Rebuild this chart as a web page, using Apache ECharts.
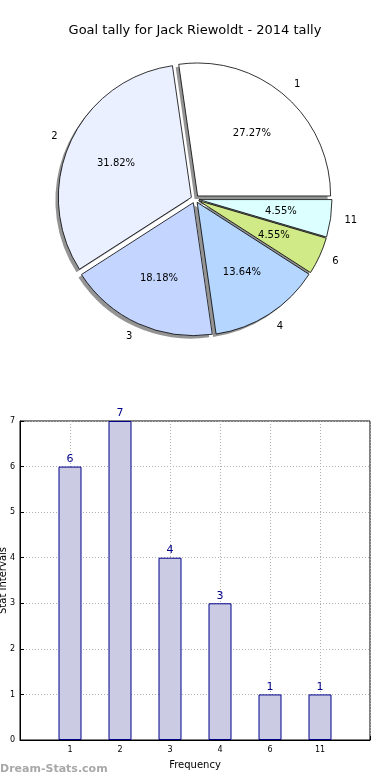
<!DOCTYPE html>
<html>
<head>
<meta charset="utf-8">
<script src="https://cdn.jsdelivr.net/npm/echarts@6/dist/echarts.min.js"></script>
<style>html,body{margin:0;padding:0;background:#fff}#c{width:390px;height:780px}</style>
</head>
<body>
<div id="c"></div>
<script>
const titleText = 'Goal tally for Jack Riewoldt - 2014 tally';
const categories = ['1', '2', '3', '4', '6', '11'];
const counts = [6, 7, 4, 3, 1, 1];
const sliceColors = ['#ffffff', '#eaf0ff', '#c4d6ff', '#b4d6ff', '#d0ea88', '#dcffff'];
const yTicks = [0, 1, 2, 3, 4, 5, 6, 7];

const FONT = 'DejaVu Sans';
const R = 133;
const CX = 195, CY = 199;
const OFF = 4;

const total = counts.reduce((a, b) => a + b, 0);
const chart = echarts.init(document.getElementById('c'), null, {renderer: 'canvas'});

const pieData = categories.map((c, i) => ({
  name: c, value: counts[i], selected: true,
  itemStyle: {color: sliceColors[i]}
}));
const shadowData = categories.map((c, i) => ({name: c, value: counts[i], selected: true}));
const pctData = categories.map((c, i) => ({name: c, value: counts[i], selected: true}));
const barData = counts.map((v, i) => [i, v]);

const pieCommon = {
  type: 'pie', startAngle: 0, clockwise: false,
  selectedMode: 'multiple', selectedOffset: OFF,
  avoidLabelOverlap: false, minAngle: 0,
  emphasis: {disabled: true}, silent: true
};

chart.setOption({
  animation: false,
  title: {
    text: titleText, left: 'center', top: 19,
    textStyle: {fontFamily: FONT, fontSize: 13, fontWeight: 'normal', color: '#000'}
  },
  grid: [{
    left: 20, right: 20, top: 421, bottom: 40,
    outerBoundsMode: 'none', containLabel: false,
    show: true, borderColor: '#000', borderWidth: 1, backgroundColor: 'transparent'
  }],
  xAxis: [{
    type: 'value', gridIndex: 0, min: -1, max: 6, interval: 1,
    axisLine: {show: true, onZero: false, lineStyle: {color: '#000'}},
    axisTick: {show: true, inside: true, length: 4, lineStyle: {color: '#000'}},
    splitLine: {show: true, lineStyle: {color: '#b0b0b0', type: [1, 2], width: 1}},
    axisLabel: {
      fontFamily: FONT, fontSize: 8, color: '#000', margin: 6,
      formatter: v => (v >= 0 && v < categories.length) ? categories[v] : ''
    },
    name: 'Frequency', nameLocation: 'middle', nameGap: 20, nameMoveOverlap: false,
    nameTextStyle: {fontFamily: FONT, fontSize: 10, color: '#000'}
  }],
  yAxis: [{
    type: 'value', gridIndex: 0, min: yTicks[0], max: yTicks[yTicks.length - 1], interval: 1,
    axisLine: {show: true, onZero: false, lineStyle: {color: '#000'}},
    axisTick: {show: true, inside: true, length: 4, lineStyle: {color: '#000'}},
    splitLine: {show: true, lineStyle: {color: '#b0b0b0', type: [1, 2], width: 1}},
    axisLabel: {fontFamily: FONT, fontSize: 8, color: '#000', margin: 5},
    name: 'Stat Intervals', nameLocation: 'middle', nameGap: 12, nameRotate: 90, nameMoveOverlap: false,
    nameTextStyle: {fontFamily: FONT, fontSize: 10, color: '#000'}
  }],
  graphic: [{
    type: 'text', left: 0, top: 764,
    style: {text: 'Dream-Stats.com', fontFamily: FONT, fontSize: 11, fontWeight: 'bold', fill: '#a8a8a8'}
  }],
  series: [
    Object.assign({}, pieCommon, {
      center: [CX - 3, CY + 3], radius: [0, R],
      data: shadowData,
      itemStyle: {color: 'rgba(0,0,0,0.42)', borderWidth: 0},
      label: {show: false}, labelLine: {show: false},
      z: 1
    }),
    Object.assign({}, pieCommon, {
      center: [CX, CY], radius: [0, R],
      data: pieData,
      itemStyle: {borderColor: '#000', borderWidth: 0.8},
      label: {
        show: true, position: 'outside', formatter: '{b}',
        fontFamily: FONT, fontSize: 10, color: '#000', distanceToLabelLine: 0
      },
      labelLine: {show: false, length: 14, length2: 0},
      select: {itemStyle: {borderColor: '#000', borderWidth: 0.8}},
      z: 2
    }),
    Object.assign({}, pieCommon, {
      center: [CX, CY], radius: [0, R * 1.2],
      data: pctData,
      itemStyle: {color: 'rgba(0,0,0,0)', borderWidth: 0},
      label: {
        show: true, position: 'inside',
        formatter: p => (p.value / total * 100).toFixed(2) + '%',
        fontFamily: FONT, fontSize: 10, color: '#000'
      },
      labelLine: {show: false},
      select: {itemStyle: {color: 'rgba(0,0,0,0)', borderWidth: 0}},
      z: 3
    }),
    {
      type: 'bar', xAxisIndex: 0, yAxisIndex: 0,
      data: barData, barWidth: 23,
      itemStyle: {color: '#cbcbe3', borderColor: '#00008b', borderWidth: 1},
      label: {show: true, position: 'top', distance: 2, color: '#00008b', fontFamily: FONT, fontSize: 11},
      emphasis: {disabled: true},
      silent: true
    }
  ]
});
</script>
</body>
</html>
